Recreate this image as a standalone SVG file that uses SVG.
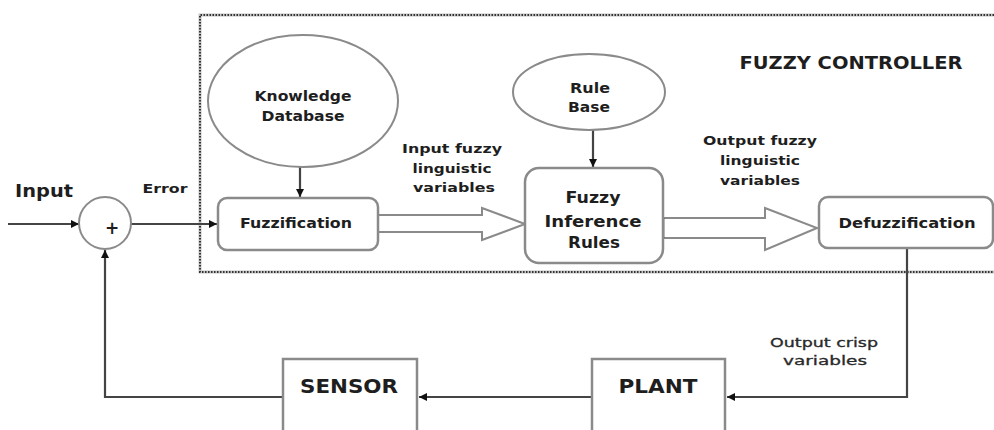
<svg xmlns="http://www.w3.org/2000/svg" width="994" height="430" viewBox="0 0 994 430">
<style>
  text { font-family: "DejaVu Sans", "Liberation Sans", sans-serif; font-weight: bold; fill: #1e1e1e; text-anchor: middle; }
  .box { fill: #fff; stroke: #8a8a8a; stroke-width: 2.5; }
  .ell { fill: #fff; stroke: #8a8a8a; stroke-width: 2; }
  .con { fill: none; stroke: #444; stroke-width: 2.2; }
  .big { fill: #fff; stroke: #8a8a8a; stroke-width: 2; stroke-linejoin: miter; }
  .lbl { font-size: 13px; }
  .reg { font-family: "DejaVu Sans Condensed", "DejaVu Sans", sans-serif; font-weight: normal; font-size: 13px; fill: #2a2a2a; stroke: #2a2a2a; stroke-width: 0.3; }
</style>
<defs>
  <marker id="ah" markerUnits="userSpaceOnUse" markerWidth="9" markerHeight="9" refX="8" refY="4.5" orient="auto">
    <path d="M0,0.5 L8,4.5 L0,8.5 Z" fill="#111"/>
  </marker>
</defs>
<rect width="994" height="430" fill="#fff"/>

<g id="controller-frame">
  <path d="M1000,15 H200 V272 H1000" fill="none" stroke="#c4c4c4" stroke-width="3"/>
  <path d="M1000,15 H200 V272 H1000" fill="none" stroke="#333" stroke-width="2" stroke-dasharray="1.5 1.5"/>
  <text x="851" y="69" font-size="17" textLength="223" lengthAdjust="spacingAndGlyphs">FUZZY CONTROLLER</text>
</g>

<g id="connectors">
  <line class="con" x1="8" y1="224" x2="79" y2="224" marker-end="url(#ah)"/>
  <line class="con" x1="131" y1="224" x2="217" y2="224" marker-end="url(#ah)"/>
  <line class="con" x1="300" y1="167" x2="300" y2="197" marker-end="url(#ah)"/>
  <line class="con" x1="593" y1="130" x2="593" y2="167" marker-end="url(#ah)"/>
  <polyline class="con" points="907,248 907,397 727,397" marker-end="url(#ah)"/>
  <line class="con" x1="592" y1="397" x2="419" y2="397" marker-end="url(#ah)"/>
  <polyline class="con" points="283,397 105,397 105,250" marker-end="url(#ah)"/>
  <path class="big" d="M378,215 H482 V208 L525,224 L482,240 V232 H378 Z"/>
  <path class="big" d="M663,218 H765 V208 L817,228 L765,250 V238 H663 Z"/>
  <line x1="663" y1="218" x2="663" y2="238" stroke="#111" stroke-width="2.5"/>
</g>

<g id="labels">
  <text x="44" y="197" font-size="18" textLength="58" lengthAdjust="spacingAndGlyphs">Input</text>
  <text x="165" y="193" class="lbl" textLength="45" lengthAdjust="spacingAndGlyphs">Error</text>
  <text x="452" y="153" class="lbl" textLength="100" lengthAdjust="spacingAndGlyphs">Input fuzzy</text>
  <text x="452" y="173" class="lbl" textLength="79" lengthAdjust="spacingAndGlyphs">linguistic</text>
  <text x="454" y="192" class="lbl" textLength="82" lengthAdjust="spacingAndGlyphs">variables</text>
  <text x="760" y="145" class="lbl" textLength="114" lengthAdjust="spacingAndGlyphs">Output fuzzy</text>
  <text x="760" y="165" class="lbl" textLength="80" lengthAdjust="spacingAndGlyphs">linguistic</text>
  <text x="760" y="185" class="lbl" textLength="80" lengthAdjust="spacingAndGlyphs">variables</text>
  <text x="824" y="347" class="reg" textLength="108" lengthAdjust="spacingAndGlyphs">Output crisp</text>
  <text x="825" y="365" class="reg" textLength="84" lengthAdjust="spacingAndGlyphs">variables</text>
</g>

<g id="sum">
  <circle cx="105" cy="223" r="26" class="ell"/>
  <text x="112" y="234" font-size="17">+</text>
</g>

<g id="knowledge-database">
  <ellipse cx="303" cy="101" rx="95" ry="66" class="ell"/>
  <text x="303" y="101" font-size="14" textLength="97" lengthAdjust="spacingAndGlyphs">Knowledge</text>
  <text x="303" y="121" font-size="14" textLength="83" lengthAdjust="spacingAndGlyphs">Database</text>
</g>

<g id="fuzzification">
  <rect x="218" y="198" width="160" height="52" rx="9" class="box"/>
  <text x="296" y="228" font-size="14" textLength="112" lengthAdjust="spacingAndGlyphs">Fuzzification</text>
</g>

<g id="rule-base">
  <ellipse cx="589" cy="92" rx="76" ry="38" class="ell"/>
  <text x="590" y="93" font-size="14" textLength="40" lengthAdjust="spacingAndGlyphs">Rule</text>
  <text x="589" y="112" font-size="14" textLength="42" lengthAdjust="spacingAndGlyphs">Base</text>
</g>

<g id="fuzzy-inference-rules">
  <rect x="525" y="168" width="138" height="95" rx="14" class="box"/>
  <text x="593" y="203" font-size="16" textLength="55" lengthAdjust="spacingAndGlyphs">Fuzzy</text>
  <text x="593" y="227" font-size="16" textLength="97" lengthAdjust="spacingAndGlyphs">Inference</text>
  <text x="594" y="248" font-size="16" textLength="52" lengthAdjust="spacingAndGlyphs">Rules</text>
</g>

<g id="defuzzification">
  <rect x="819" y="197" width="174" height="51" rx="9" class="box"/>
  <text x="907" y="228" font-size="14" textLength="137" lengthAdjust="spacingAndGlyphs">Defuzzification</text>
</g>

<g id="plant">
  <rect x="592" y="359" width="133" height="85" class="box"/>
  <text x="658" y="393" font-size="20" textLength="79" lengthAdjust="spacingAndGlyphs">PLANT</text>
</g>

<g id="sensor">
  <rect x="283" y="359" width="134" height="85" class="box"/>
  <text x="349" y="393" font-size="20" textLength="98" lengthAdjust="spacingAndGlyphs">SENSOR</text>
</g>
</svg>
